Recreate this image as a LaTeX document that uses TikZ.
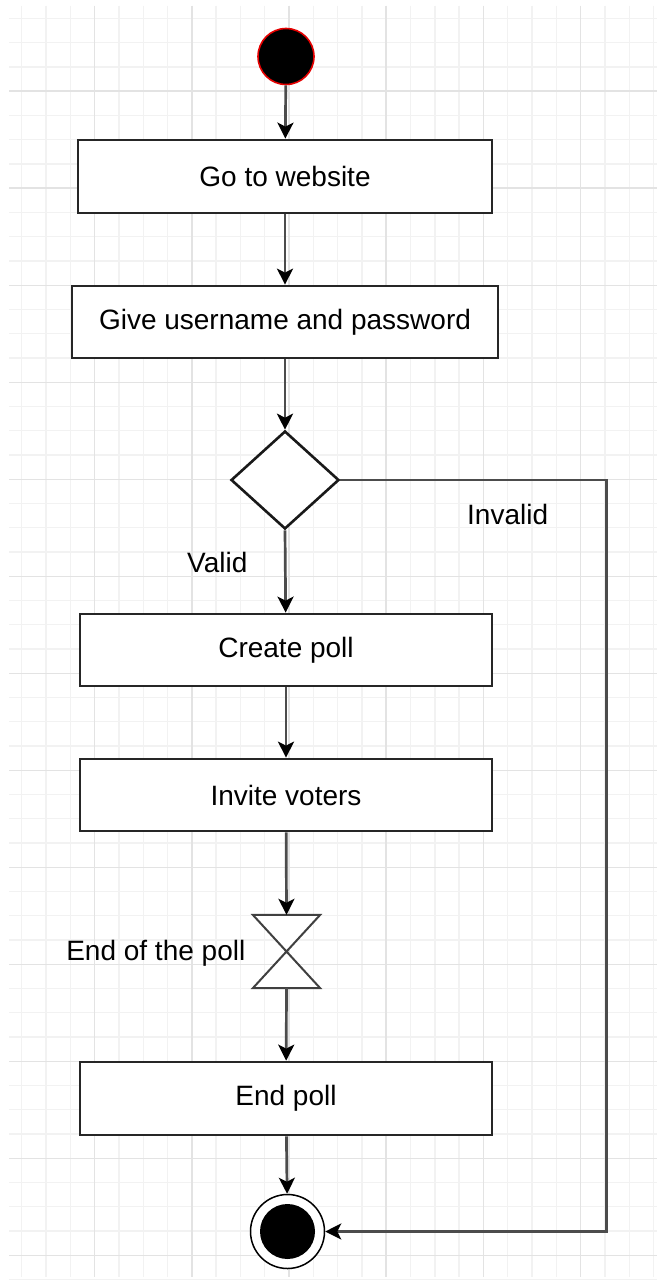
\documentclass[tikz,border=0pt]{standalone}
\usepackage{fontspec}
\setmainfont{Liberation Sans}
\usetikzlibrary{arrows.meta,shapes.geometric}

\tikzset{
  gridminor/.style={draw=black!5, line width=1.4pt},
  gridmajor/.style={draw=black!11, line width=1.5pt},
  actbox/.style={draw=black!85, line width=2.7pt, fill=white, rectangle, inner sep=0pt,
    font=\fontsize{28}{34}\selectfont},
  decision/.style={draw=black!90, line width=2.6pt, fill=white, diamond, inner sep=0pt, aspect=1.1},
  flow/.style={draw=black!70, line width=2.7pt,
    -{Stealth[length=16pt,width=16pt,inset=4pt,color=black]}},
  lbl/.style={font=\fontsize{28}{34}\selectfont, inner sep=0pt},
}

\begin{document}
\begin{tikzpicture}[x=1pt,y=-1pt]
  % page and background grid
  \fill[white] (0,0) rectangle (657,1281);
  \useasboundingbox (0,0) rectangle (657,1281);
  \foreach \k in {0,...,26} \draw[gridminor] ({21.7+24.3*\k},6) -- ({21.7+24.3*\k},1277);
  \foreach \k in {0,...,52} \draw[gridminor] (9,{18.5+24.25*\k}) -- (657,{18.5+24.25*\k});
  \foreach \k in {3,7,...,23} \draw[gridmajor] ({21.7+24.3*\k},6) -- ({21.7+24.3*\k},1277);
  \foreach \k in {3,7,...,51} \draw[gridmajor] (9,{18.5+24.25*\k}) -- (657,{18.5+24.25*\k});

  % initial node
  \node[circle, draw=red!90!black, line width=1.6pt, fill=black, minimum size=56pt, inner sep=0pt]
    (start) at (286,56.5) {};

  % activities
  \node[actbox, minimum width=414pt, minimum height=73pt] (web) at (285,176.5) {Go to website};
  \node[actbox, minimum width=426pt, minimum height=72pt] (login) at (285,322) {Give username and password};
  \node[decision, minimum width=108pt, minimum height=98pt] (dec) at (285,480) {};
  \node[actbox, minimum width=412pt, minimum height=72pt] (create) at (286,650) {Create poll};
  \node[actbox, minimum width=412pt, minimum height=72pt] (invite) at (286,795) {Invite voters};

  % time event (hourglass)
  \node[rectangle, minimum width=67pt, minimum height=73pt, inner sep=0pt] (wait) at (286.5,951.5) {};
  \draw[draw=black!75, line width=2pt, fill=white, line join=miter]
    (wait.north west) -- (wait.north east) -- (wait.south west) -- (wait.south east) -- cycle;

  \node[actbox, minimum width=412pt, minimum height=73pt] (endpoll) at (286,1098.5) {End poll};

  % final node
  \node[circle, draw=black, line width=1.5pt, fill=white, minimum size=74pt, inner sep=0pt]
    (final) at (287.5,1231.5) {};
  \fill[black] (final.center) circle (27.5pt);

  % transitions
  \draw[flow] (start) -- (web);
  \draw[flow] (web) -- (login);
  \draw[flow] (login) -- (dec);
  \draw[flow] (dec.south) -- (create);
  \draw[flow] (create) -- (invite);
  \draw[flow] (invite) -- (wait.north);
  \draw[flow] (wait.south) -- (endpoll);
  \draw[flow] (endpoll) -- (final);
  \coordinate (turn) at (606.5,480);
  \draw[flow] (dec.east) -- (turn) |- (final.east);

  % guard and event labels
  \node[lbl, anchor=base west] (invalid) at (467,524) {Invalid};
  \node[lbl, anchor=base west] (valid) at (187,572) {Valid};
  \node[lbl, anchor=base east] (evt) at (245.5,960) {End of the poll};
\end{tikzpicture}
\end{document}
